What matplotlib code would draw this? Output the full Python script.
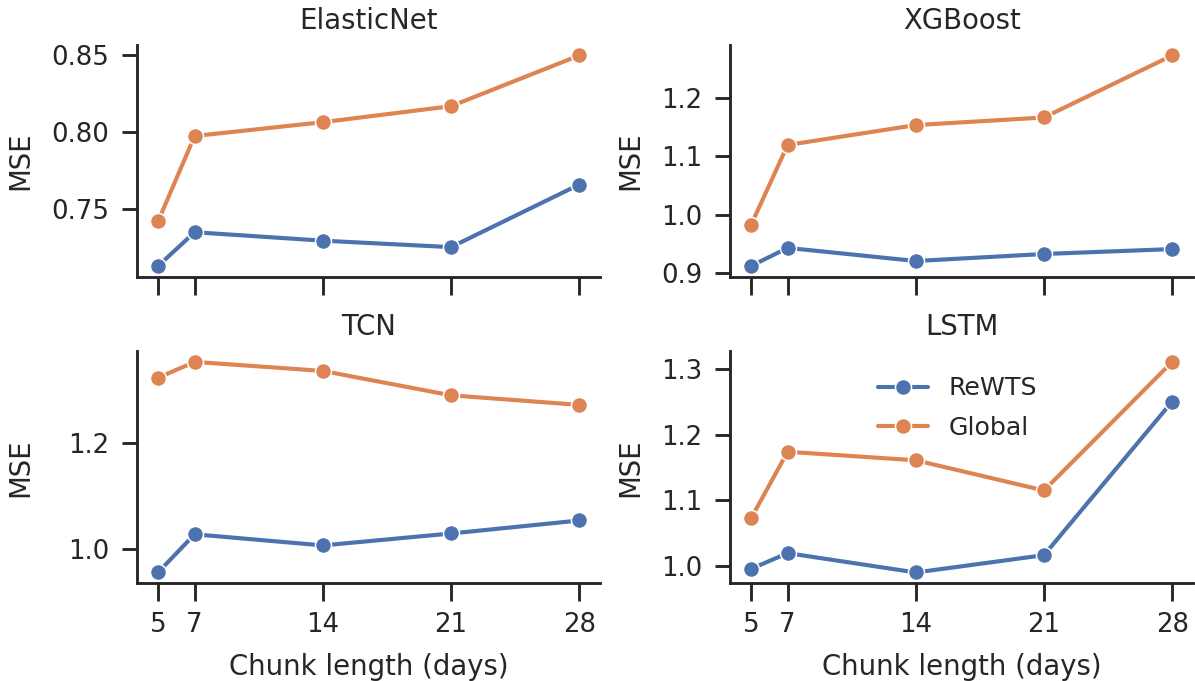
import numpy as np
import matplotlib
matplotlib.use("Agg")
import matplotlib.pyplot as plt
import seaborn as sns

chunk_days = [5, 7, 14, 21, 28]
modelos = ["ElasticNet", "XGBoost", "TCN", "LSTM"]

# MSE por modelo: (ReWTS, Global)
rewts = {
    "ElasticNet": [0.713, 0.735, 0.7295, 0.7253, 0.766],
    "XGBoost": [0.912, 0.943, 0.9206, 0.9326, 0.941],
    "TCN": [0.955, 1.027, 1.006, 1.0285, 1.053],
    "LSTM": [0.9954, 1.0195, 0.990, 1.0164, 1.2505],
}
global_ = {
    "ElasticNet": [0.742, 0.7976, 0.8066, 0.817, 0.850],
    "XGBoost": [0.982, 1.119, 1.153, 1.166, 1.272],
    "TCN": [1.322, 1.352, 1.335, 1.289, 1.271],
    "LSTM": [1.0724, 1.174, 1.161, 1.115, 1.311],
}
yticks = {
    "ElasticNet": [0.75, 0.80, 0.85],
    "XGBoost": [0.9, 1.0, 1.1, 1.2],
    "TCN": [1.0, 1.2],
    "LSTM": [1.0, 1.1, 1.2, 1.3],
}

sns.set_theme(style="ticks", context="talk")
plt.rcParams.update({
    "xtick.major.size": 11.5,
    "ytick.major.size": 10,
    "xtick.major.pad": 7.5,
    "ytick.major.pad": 8,
    "xtick.labelsize": 17,
    "ytick.labelsize": 17,
    "axes.titlepad": 10.5,
    "axes.labelpad": 10,
    "lines.linewidth": 2.7,
})
cores = sns.color_palette("deep")

dpi = 110
fig, axes = plt.subplots(2, 2, figsize=(1195 / dpi, 681 / dpi), dpi=dpi, sharex=True)
fig.subplots_adjust(left=0.1146, right=0.9985, top=0.934, bottom=0.1439, wspace=0.28, hspace=0.323)

for ax, modelo in zip(axes.flat, modelos):
    ax.plot(chunk_days, rewts[modelo], marker="o", ms=10.5, color=cores[0], mec="white", label="ReWTS")
    ax.plot(chunk_days, global_[modelo], marker="o", ms=10.5, color=cores[1], mec="white", label="Global")
    ax.set_title(modelo)
    ax.set_ylabel("MSE", labelpad=11)
    ax.set_yticks(yticks[modelo])
    ax.set_xticks(chunk_days)
    sns.despine(ax=ax)

for ax in axes[1]:
    ax.set_xlabel("Chunk length (days)")

axes[1, 1].legend(frameon=False, loc="upper left", bbox_to_anchor=(0.27, 0.99), labelspacing=0.6)
fig.align_ylabels(axes[:, 0])
fig.align_ylabels(axes[:, 1])

fig.savefig("out.png", dpi=dpi)
